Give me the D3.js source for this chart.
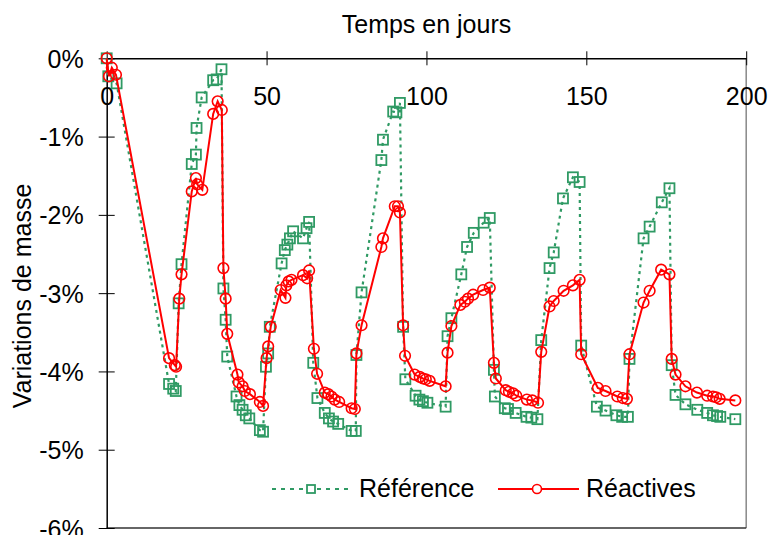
<!DOCTYPE html>
<html>
<head>
<meta charset="utf-8">
<script src="https://cdn.jsdelivr.net/npm/d3@7"></script>
<style>
  body { margin: 0; background: #fff; }
  text { font-family: "Liberation Sans", Arial, sans-serif; fill: #000; }
</style>
</head>
<body>
<svg id="chart" width="771" height="535"></svg>
<script>
// Référence series (green squares, dotted line)
const refDays = [0, 0.5, 3.1, 19.5, 20.8, 21.6, 22.5, 23.4, 26.6, 27.9, 28.1, 29.7, 33.3, 34.4, 35.9,
  36.5, 37.2, 37.7, 40.6, 41.5, 42.5, 43.5, 44.6, 47.9, 48.9, 49.8, 50.5, 51, 54.7, 55.7, 56.5, 57.3, 58.3,
  61.4, 62.5, 63.3, 64.6, 65.9, 68.2, 69.5, 70.8, 72.4, 76.6, 77.9, 78.1, 79.7, 85.9, 86.4, 89.6, 90.6, 91.7,
  92.7, 93.4, 96.6, 97.8, 98.9, 100.3, 106, 106.6, 107.8, 110.9, 112.7, 114.8, 117.9, 119.8, 121.1, 121.4,
  124.5, 125.5, 127.9, 131.3, 132.8, 134.7, 135.9, 138.5, 139.8, 142.7, 145.8, 147.9, 148.4, 153.3, 156,
  159.4, 161.2, 163, 163.5, 167.9, 169.8, 173.6, 176, 176.7, 177.9, 181, 184.7, 187.8, 189.6, 190.9, 191.9, 196.6];
const refVals = [0, -0.23, -0.32, -4.16, -4.22, -4.25, -3.13, -2.63, -1.35, -1.23, -0.89, -0.50, -0.28, -0.27, -0.14,
  -2.94, -3.34, -3.81, -4.32, -4.43, -4.49, -4.56, -4.60, -4.75, -4.77, -3.94, -3.77, -3.43, -2.62, -2.45, -2.38, -2.30, -2.21,
  -2.30, -2.17, -2.09, -3.89, -4.34, -4.53, -4.60, -4.64, -4.67, -4.76, -4.76, -3.79, -2.99, -1.30, -1.04, -0.68, -0.69, -0.57,
  -3.43, -4.10, -4.31, -4.36, -4.38, -4.40, -4.45, -3.55, -3.32, -2.76, -2.41, -2.23, -2.10, -2.04, -3.98, -4.32,
  -4.47, -4.48, -4.53, -4.58, -4.59, -4.61, -3.60, -2.68, -2.48, -1.79, -1.52, -1.58, -3.67, -4.45, -4.50,
  -4.56, -4.58, -4.58, -3.84, -2.30, -2.15, -1.84, -1.66, -3.92, -4.30, -4.42, -4.49, -4.53, -4.56, -4.57, -4.58, -4.61];

// Réactives series (red circles, solid line)
const reaDays = [0, 0.7, 1.6, 2.9, 19.5, 21.3, 21.7, 22.7, 23.4, 26.6, 27.9, 28.3, 29.9, 33.3, 34.7, 36.0,
  36.5, 37.2, 37.7, 40.9, 41.3, 42.5, 43.2, 44.8, 47.9, 48.9, 50.0, 50.5, 51.3, 54.4, 55.9, 56.2, 56.9, 57.8,
  61.4, 62.7, 63.3, 64.8, 65.8, 68.2, 69.3, 70.3, 71.3, 72.7, 76.6, 77.6, 78.1, 79.7, 85.9, 86.4, 90.1, 91.1, 91.7,
  92.7, 93.3, 96.3, 97.9, 98.9, 99.8, 101, 106, 106.6, 107.8, 110.6, 112, 113, 114.6, 117.7, 119.8, 121.1, 121.7,
  124.8, 125.8, 127.1, 128.1, 131.4, 133.1, 134.9, 135.9, 138.5, 139.8, 142.9, 145.8, 147.9, 148.4, 153.6, 156,
  159.7, 161.4, 162.7, 163.5, 167.9, 169.8, 173.4, 176, 176.7, 177.9, 181, 184.6, 187.8, 189.6, 190.6, 191.7, 196.6];
const reaVals = [0, -0.23, -0.12, -0.21, -3.83, -3.92, -3.94, -3.07, -2.76, -1.70, -1.53, -1.61, -1.68, -0.71, -0.55, -0.66,
  -2.68, -3.07, -3.52, -4.04, -4.14, -4.19, -4.25, -4.29, -4.39, -4.44, -3.83, -3.68, -3.43, -2.96, -3.06, -2.90, -2.85, -2.83,
  -2.77, -2.81, -2.71, -3.71, -4.03, -4.27, -4.29, -4.32, -4.36, -4.39, -4.47, -4.48, -3.77, -3.41, -2.41, -2.30, -1.89, -1.89, -1.97,
  -3.41, -3.80, -4.04, -4.07, -4.09, -4.10, -4.12, -4.19, -3.76, -3.42, -3.15, -3.11, -3.07, -3.02, -2.96, -2.93, -3.89, -4.09,
  -4.24, -4.26, -4.28, -4.31, -4.36, -4.37, -4.40, -3.75, -3.17, -3.10, -2.97, -2.90, -2.83, -3.78, -4.21, -4.25,
  -4.32, -4.34, -4.35, -3.78, -3.12, -2.97, -2.70, -2.76, -3.84, -4.04, -4.19, -4.27, -4.31, -4.32, -4.33, -4.35, -4.37];

const xTicks = [0, 50, 100, 150, 200];
const yTicks = [0, -1, -2, -3, -4, -5, -6];

const green = "#2f9a64";
const red = "#ff0000";

const svg = d3.select("#chart");

const x = d3.scaleLinear().domain([0, 200]).range([106.7, 746.2]);
const y = d3.scaleLinear().domain([0, -6]).range([58.3, 528]);

const refData = refDays.map((d, i) => [d, refVals[i]]);
const reaData = reaDays.map((d, i) => [d, reaVals[i]]);

// plot border (right and bottom)
svg.append("line")
    .attr("x1", x(200)).attr("x2", x(200))
    .attr("y1", y(0)).attr("y2", y(-6))
    .attr("stroke", "#888").attr("stroke-width", 1.5);
svg.append("line")
    .attr("x1", x(0)).attr("x2", x(200))
    .attr("y1", y(-6)).attr("y2", y(-6))
    .attr("stroke", "#333").attr("stroke-width", 1.5);

// x axis at top, labels underneath
const xAxis = svg.append("g")
    .attr("transform", `translate(0,${y(0)})`)
    .call(d3.axisBottom(x).tickValues(xTicks).tickSize(7).tickPadding(40).tickSizeOuter(0));
xAxis.select(".domain").attr("stroke", "#000").attr("stroke-width", 1.5);
xAxis.selectAll(".tick line").attr("y1", -7).attr("y2", 7).attr("stroke", "#000");
xAxis.selectAll(".tick text")
    .attr("font-size", 25).attr("font-family", "Liberation Sans, Arial, sans-serif")
    .attr("y", 47).attr("dy", 0);

// y axis
const yAxis = svg.append("g")
    .attr("transform", `translate(${x(0)},0)`)
    .call(d3.axisLeft(y).tickValues(yTicks).tickSize(8).tickPadding(15).tickSizeOuter(0)
        .tickFormat(d => d + "%"));
yAxis.select(".domain").attr("stroke", "#000").attr("stroke-width", 1.5);
yAxis.selectAll(".tick line").attr("x1", -8).attr("x2", 8).attr("stroke", "#000");
yAxis.selectAll(".tick text")
    .attr("font-size", 25).attr("font-family", "Liberation Sans, Arial, sans-serif")
    .attr("x", -23).attr("dy", "0.36em");

// titles
svg.append("text")
    .attr("x", 426.5).attr("y", 33)
    .attr("text-anchor", "middle").attr("font-size", 25)
    .text("Temps en jours");
svg.append("text")
    .attr("transform", "translate(31,296) rotate(-90)")
    .attr("text-anchor", "middle").attr("font-size", 25)
    .text("Variations de masse");

const line = d3.line().x(d => x(d[0])).y(d => y(d[1]));

// Référence
svg.append("path")
    .datum(refData)
    .attr("d", line)
    .attr("fill", "none")
    .attr("stroke", green).attr("stroke-width", 2.2)
    .attr("stroke-dasharray", "3,4");
svg.selectAll(".sq")
    .data(refData)
    .enter().append("rect")
    .attr("class", "sq")
    .attr("x", d => x(d[0]) - 5).attr("y", d => y(d[1]) - 5)
    .attr("width", 10).attr("height", 10)
    .attr("fill", "none").attr("stroke", green).attr("stroke-width", 1.8);

// Réactives
svg.append("path")
    .datum(reaData)
    .attr("d", line)
    .attr("fill", "none")
    .attr("stroke", red).attr("stroke-width", 2);
svg.selectAll(".ci")
    .data(reaData)
    .enter().append("circle")
    .attr("class", "ci")
    .attr("cx", d => x(d[0])).attr("cy", d => y(d[1]))
    .attr("r", 5.3)
    .attr("fill", "none").attr("stroke", red).attr("stroke-width", 1.6);

// legend
const leg = svg.append("g");
leg.append("line")
    .attr("x1", 272).attr("x2", 348).attr("y1", 489).attr("y2", 489)
    .attr("stroke", green).attr("stroke-width", 2.2).attr("stroke-dasharray", "4,5");
leg.append("rect")
    .attr("x", 307).attr("y", 485).attr("width", 8).attr("height", 8)
    .attr("fill", "#fff").attr("stroke", green).attr("stroke-width", 1.8);
leg.append("text").attr("x", 359).attr("y", 497).attr("font-size", 25).text("Référence");
leg.append("line")
    .attr("x1", 498).attr("x2", 579).attr("y1", 489).attr("y2", 489)
    .attr("stroke", red).attr("stroke-width", 2);
leg.append("circle")
    .attr("cx", 537).attr("cy", 489).attr("r", 4.5)
    .attr("fill", "#fff").attr("stroke", red).attr("stroke-width", 1.6);
leg.append("text").attr("x", 586).attr("y", 497).attr("font-size", 25).text("Réactives");
</script>
</body>
</html>
